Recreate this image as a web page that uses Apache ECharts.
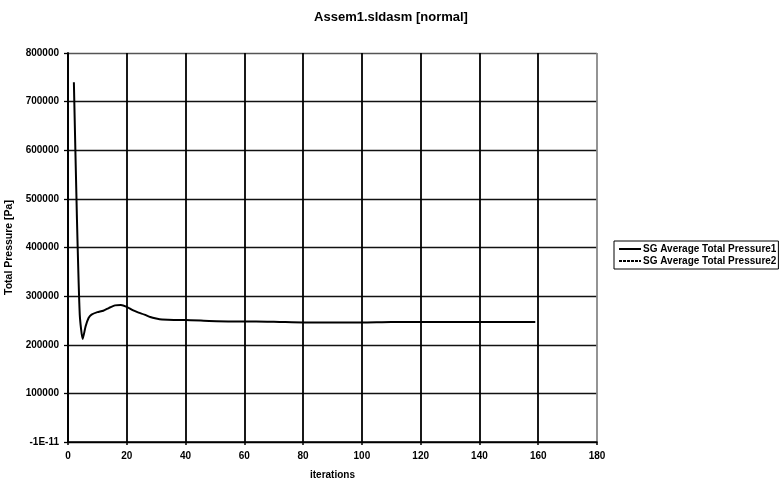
<!DOCTYPE html>
<html>
<head>
<meta charset="utf-8">
<script src="https://cdn.jsdelivr.net/npm/echarts@6/dist/echarts.min.js"></script>
<style>
html,body{margin:0;padding:0;background:#fff;}
#chart{width:782px;height:486px;}
</style>
</head>
<body>
<div id="chart"></div>
<script>
const titleText = 'Assem1.sldasm [normal]';
const xAxisName = 'iterations';
const yAxisName = 'Total Pressure [Pa]';
const seriesNames = ['SG Average Total Pressure1', 'SG Average Total Pressure2'];
const xTickLabels = ['0','20','40','60','80','100','120','140','160','180'];
const yTickLabels = ['-1E-11','100000','200000','300000','400000','500000','600000','700000','800000'];
const iterations = [2,3,4,5,6,7,8,10,12,14,16,18,20,22,24,26,28,30,32,36,40,48,56,64,72,80,90,100,110,120,130,140,150,159];
const pressure1 = [740000,470000,262000,212000,238000,255000,262000,267000,270000,276000,281000,282000,278000,271000,266000,262000,257000,254000,252000,251000,251000,249000,248000,248000,247000,246000,246000,246000,247000,247000,247000,247000,247000,247000];
const pressure2 = [];

const chart = echarts.init(document.getElementById('chart'));
const font = 'Liberation Sans, Arial, sans-serif';
chart.setOption({
  animation: false,
  backgroundColor: '#fff',
  title: {
    text: titleText, left: 'center', top: 6,
    textStyle: {fontFamily: font, fontSize: 13, fontWeight: 'bold', color: '#000'}
  },
  legend: {
    orient: 'vertical', left: 614, top: 241,
    borderColor: '#000', borderWidth: 1, padding: [3, 2, 3, 4],
    itemGap: 2, itemWidth: 22, itemHeight: 10,
    itemStyle: {opacity: 0},
    textStyle: {fontFamily: font, fontSize: 10, fontWeight: 'bold', color: '#000', padding: [0,0,0,-3]},
    data: seriesNames
  },
  grid: {left: 68, right: 185, top: 53, bottom: 44, containLabel: false, outerBoundsMode: 'none'},
  xAxis: {
    type: 'value', min: 0, max: 180, interval: 20,
    name: xAxisName, nameLocation: 'middle', nameGap: 28,
    nameTextStyle: {fontFamily: font, fontSize: 10, fontWeight: 'bold', color: '#000'},
    axisLine: {onZero: false, lineStyle: {color: '#000', width: 1.5}},
    axisTick: {show: true, length: 3, lineStyle: {color: '#000', width: 1.5}},
    axisLabel: {fontFamily: font, fontSize: 10, fontWeight: 'bold', color: '#000', margin: 9,
      formatter: (v) => xTickLabels[Math.round(v / 20)]},
    splitLine: {show: true, lineStyle: {color: ['#000','#000','#000','#000','#000','#000','#000','#000','#000','#888'], width: 1.8}}
  },
  yAxis: {
    type: 'value', min: 0, max: 800000, interval: 100000,
    name: yAxisName, nameLocation: 'middle', nameGap: 46,
    nameTextStyle: {fontFamily: font, fontSize: 10.5, fontWeight: 'bold', color: '#000'},
    axisLine: {show: true, lineStyle: {color: '#000', width: 1.8}},
    axisTick: {show: true, length: 4, lineStyle: {color: '#000', width: 1.3}},
    axisLabel: {fontFamily: font, fontSize: 10, fontWeight: 'bold', color: '#000', margin: 9,
      formatter: (v) => yTickLabels[Math.round(v / 100000)]},
    splitLine: {show: true, lineStyle: {color: ['#000','#111','#111','#111','#111','#111','#111','#111','#555'], width: 1.4}}
  },
  series: [
    {
      name: seriesNames[0], type: 'line', symbol: 'none', smooth: 0.2,
      lineStyle: {color: '#000', width: 2}, itemStyle: {color: '#000'},
      data: iterations.map((x, i) => [x, pressure1[i]])
    },
    {
      name: seriesNames[1], type: 'line', symbol: 'none',
      lineStyle: {color: '#000', width: 1, type: [3, 1]}, itemStyle: {color: '#000'},
      data: pressure2
    }
  ]
});
</script>
</body>
</html>
